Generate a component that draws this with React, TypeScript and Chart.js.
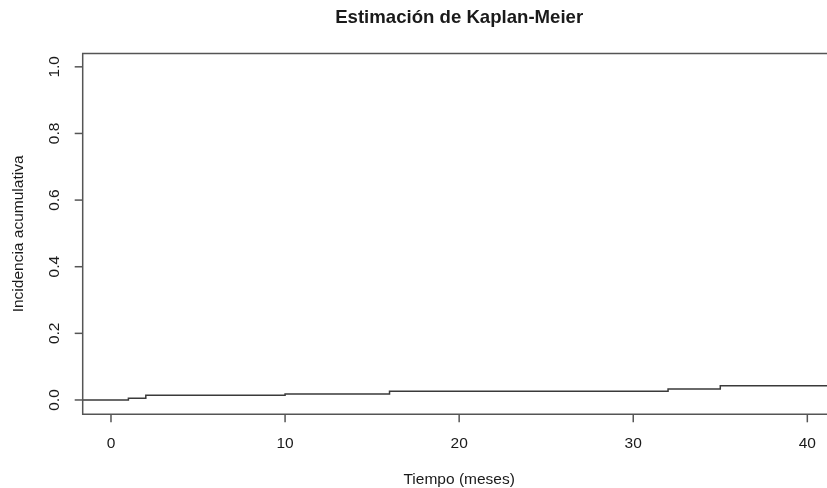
import React, { useEffect, useRef } from "react";
import { Chart, registerables } from "chart.js";

Chart.register(...registerables);

// Kaplan-Meier cumulative incidence: event times (months) and curve level after each
const stepTimes = [0, 1, 2, 10, 16, 32, 35];
const cumIncidence = [0, 0.005, 0.014, 0.018, 0.026, 0.033, 0.043];
const followUpEnd = 41.6;

// Axis ranges and tick labels
const xMin = -1.625;
const xMax = 41.13;
const yMin = -0.043;
const yMax = 1.04;
const xTicks = [0, 10, 20, 30, 40];
const yTicks = [0, 0.2, 0.4, 0.6, 0.8, 1.0];
const xCenterValue = 20;

const chartTitle = "Estimación de Kaplan-Meier";
const xTitle = "Tiempo (meses)";
const yTitle = "Incidencia acumulativa";

const FONT = "'Liberation Sans', Arial, Helvetica, sans-serif";
const TEXT_COLOR = "#1a1a1a";
const AXIS_COLOR = "#555555";

const baseAxesPlugin = {
  id: "baseAxes",
  afterDraw(chart: any) {
    const { ctx, chartArea, scales } = chart;
    const x = scales.x;
    const y = scales.y;
    ctx.save();

    // plot box
    ctx.strokeStyle = AXIS_COLOR;
    ctx.lineWidth = 1.5;
    ctx.beginPath();
    ctx.moveTo(chartArea.right + 20, chartArea.top);
    ctx.lineTo(chartArea.left, chartArea.top);
    ctx.lineTo(chartArea.left, chartArea.bottom);
    ctx.lineTo(chartArea.right + 20, chartArea.bottom);
    ctx.stroke();

    // x ticks and labels
    ctx.fillStyle = TEXT_COLOR;
    ctx.font = `15.5px ${FONT}`;
    ctx.textAlign = "center";
    ctx.textBaseline = "middle";
    xTicks.forEach((v) => {
      const px = x.getPixelForValue(v);
      ctx.beginPath();
      ctx.moveTo(px, chartArea.bottom);
      ctx.lineTo(px, chartArea.bottom + 8);
      ctx.stroke();
      ctx.fillText(String(v), px, chartArea.bottom + 29);
    });

    // y ticks and rotated labels
    yTicks.forEach((v) => {
      const py = y.getPixelForValue(v);
      ctx.beginPath();
      ctx.moveTo(chartArea.left, py);
      ctx.lineTo(chartArea.left - 8, py);
      ctx.stroke();
      ctx.save();
      ctx.translate(chartArea.left - 28, py);
      ctx.rotate(-Math.PI / 2);
      ctx.fillText(v.toFixed(1), 0, 0);
      ctx.restore();
    });

    const cx = x.getPixelForValue(xCenterValue);
    const cy = (chartArea.top + chartArea.bottom) / 2;

    // axis titles
    ctx.fillText(xTitle, cx, chartArea.bottom + 65);
    ctx.save();
    ctx.translate(19, cy);
    ctx.rotate(-Math.PI / 2);
    ctx.fillText(yTitle, 0, 0);
    ctx.restore();

    // main title
    ctx.font = `bold 18.6px ${FONT}`;
    ctx.fillText(chartTitle, cx, 18);

    ctx.restore();
  },
};

export default function App() {
  const canvasRef = useRef<HTMLCanvasElement | null>(null);

  useEffect(() => {
    if (!canvasRef.current) return;
    const points = [
      { x: xMin, y: cumIncidence[0] },
      ...stepTimes.map((t, i) => ({ x: t, y: cumIncidence[i] })),
      { x: followUpEnd, y: cumIncidence[cumIncidence.length - 1] },
    ];
    const chart = new Chart(canvasRef.current, {
      type: "line",
      data: {
        datasets: [
          {
            data: points,
            stepped: "before",
            borderColor: "#3a3a3a",
            borderWidth: 1.5,
            pointRadius: 0,
            fill: false,
          },
        ],
      },
      options: {
        responsive: false,
        animation: false,
        layout: { padding: { left: 82.7, top: 53.5, right: 0, bottom: 73.7 } },
        plugins: {
          legend: { display: false },
          tooltip: { enabled: false },
          title: { display: false },
        },
        scales: {
          x: { type: "linear", min: xMin, max: xMax, display: false },
          y: { type: "linear", min: yMin, max: yMax, display: false },
        },
      },
      plugins: [baseAxesPlugin],
    });
    return () => chart.destroy();
  }, []);

  return (
    <div style={{ position: "absolute", left: 0, top: 0, width: 827, height: 488, background: "#ffffff" }}>
      <canvas ref={canvasRef} width={827} height={488} />
    </div>
  );
}
